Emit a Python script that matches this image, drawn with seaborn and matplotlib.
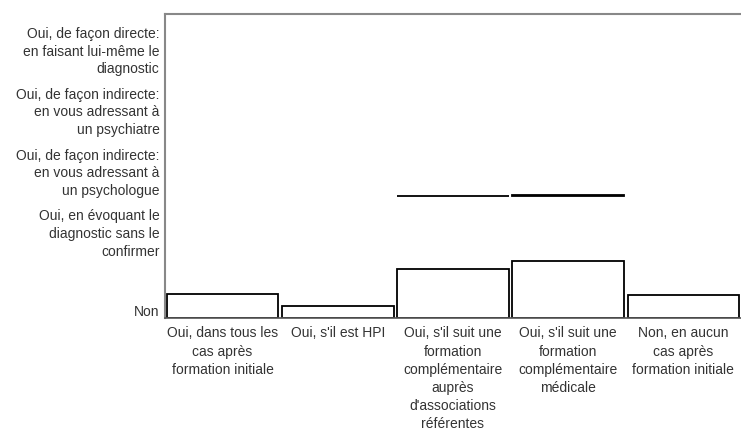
import matplotlib
matplotlib.use("Agg")
import matplotlib.pyplot as plt
import matplotlib.transforms as mtransforms
import seaborn as sns
import numpy as np
import pandas as pd

categories = [
    "Oui, dans tous les\ncas après\nformation initiale",
    "Oui, s'il est HPI",
    "Oui, s'il suit une\nformation\ncomplémentaire\nauprès\nd'associations\nréférentes",
    "Oui, s'il suit une\nformation\ncomplémentaire\nmédicale",
    "Non, en aucun\ncas après\nformation initiale",
]
bar_values = [0.39, 0.20, 0.80, 0.94, 0.38]
segment_base = [0.0, 0.0, 2.0, 2.0, 0.0]
segment_height = [0.0, 0.0, 0.0, 0.015, 0.0]
segment_shown = [False, False, True, True, False]
y_labels = [
    "Non",
    "Oui, en évoquant le\ndiagnostic sans le\nconfirmer",
    "Oui, de façon indirecte:\nen vous adressant à\nun psychologue",
    "Oui, de façon indirecte:\nen vous adressant à\nun psychiatre",
    "Oui, de façon directe:\nen faisant lui-même le\ndiagnostic",
]

sns.set_theme(style="white")
plt.rcParams['font.family'] = ['Liberation Sans', 'DejaVu Sans']

fig = plt.figure(figsize=(7.41, 4.28), dpi=100)
ax = fig.add_axes([165 / 741, 1 - 318 / 428, 1 - 165 / 741, 304 / 428])

df = pd.DataFrame({"cat": categories, "val": bar_values})
sns.barplot(data=df, x="cat", y="val", ax=ax, color="white",
            edgecolor="black", linewidth=1.3, width=0.97, saturation=1)

# thin segments
xs = [i for i, s in enumerate(segment_shown) if s]
ax.bar(xs, [segment_height[i] for i in xs], bottom=[segment_base[i] for i in xs],
       width=0.97, color="white", edgecolor="black", linewidth=1.3)

ax.set_xlim(-0.5, len(categories) - 0.5)
ax.set_ylim(0, 5)
ax.set_xlabel("")
ax.set_ylabel("")

ax.set_yticks(range(len(y_labels)))
ax.set_yticklabels(y_labels, fontsize=10, color="#333333", va="bottom",
                   ha="right", multialignment="right", linespacing=1.33)
ax.tick_params(axis="y", length=0, pad=4)
shift = mtransforms.ScaledTranslation(0, -1.5 / 100, fig.dpi_scale_trans)
for lab in ax.get_yticklabels():
    lab.set_transform(lab.get_transform() + shift)

ax.set_xticks(range(len(categories)))
ax.set_xticklabels(categories, fontsize=10, color="#333333", linespacing=1.38,
                   ha="center", va="top", multialignment="center")
ax.tick_params(axis="x", which="major", length=0, pad=6)
ax.set_xticks(np.arange(0.5, len(categories) - 0.5, 1.0), minor=True)
ax.tick_params(axis="x", which="minor", length=3, width=1, color="#555555", direction="out")

for side in ["top", "left"]:
    ax.spines[side].set_color("#888888")
    ax.spines[side].set_linewidth(1.5)
ax.spines["bottom"].set_color("#555555")
ax.spines["bottom"].set_linewidth(1.2)
ax.spines["right"].set_visible(False)
ax.grid(False)

fig.savefig("out.png", dpi=100)
